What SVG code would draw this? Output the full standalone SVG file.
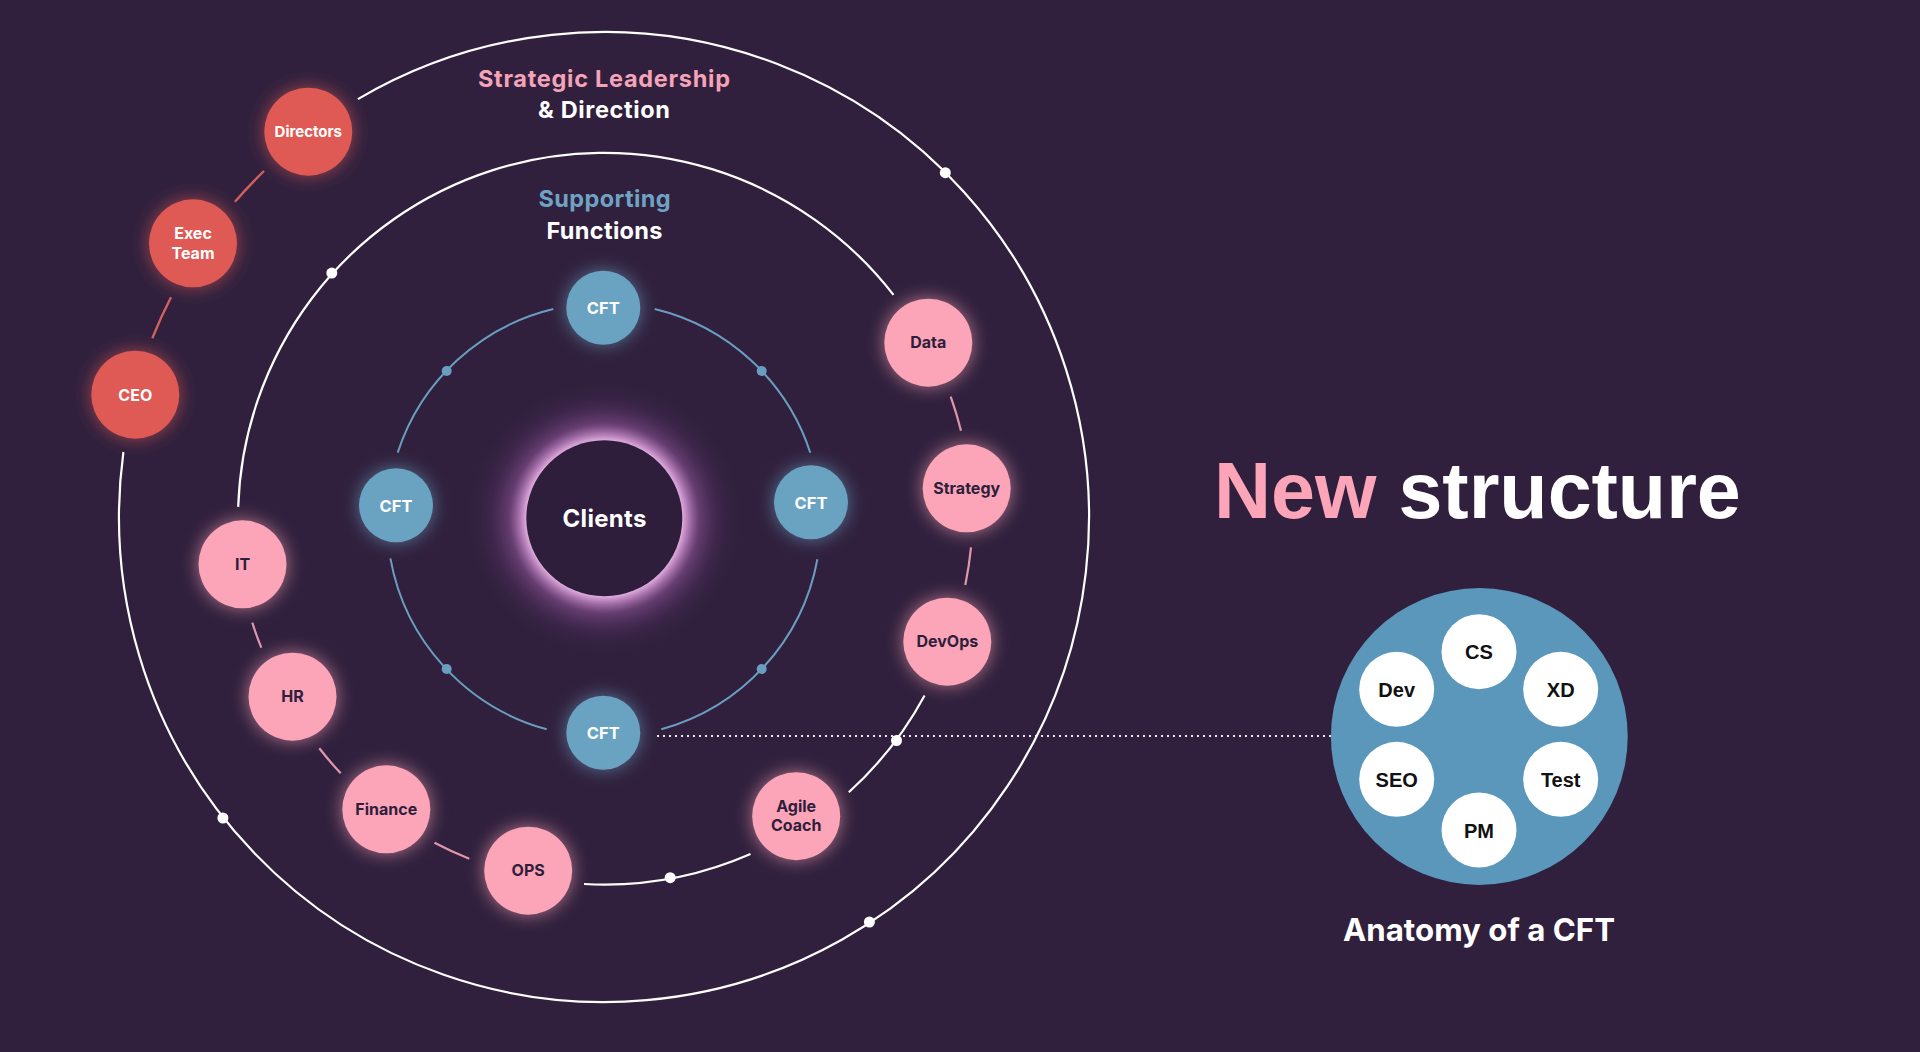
<svg xmlns="http://www.w3.org/2000/svg" width="1920" height="1052" viewBox="0 0 1920 1052">
<defs>
<style>
.bg{fill:#30203d}
.ring{fill:none;stroke:#ffffff;stroke-width:2.2}
.bring{fill:none;stroke:#6a9ec0;stroke-width:2}
.pseg{fill:none;stroke:#f4a3b7;stroke-width:2.2;opacity:.9}
.rseg{fill:none;stroke:#d2605c;stroke-width:2.4}
.wdot{fill:#ffffff}
.bdot{fill:#6a9ec0}
.red{fill:#e05a55}
.pink{fill:#fca4b8}
.cft{fill:#6ba2c1}
.t{font-family:Inter,"Liberation Sans",sans-serif;font-weight:700;text-anchor:middle}
.tw{fill:#ffffff}
.td{fill:#2d1e3b}
.lbl{font-size:16px}
.cftl{font-size:16.5px}
.an{font-family:"Liberation Sans",Arial,sans-serif;font-weight:700;font-size:20px;fill:#111114;text-anchor:middle}
.anc{fill:#ffffff}
</style>
<filter id="glow" x="-70%" y="-70%" width="240%" height="240%">
<feGaussianBlur in="SourceGraphic" stdDeviation="9" result="b"/>
<feComponentTransfer in="b" result="bf"><feFuncA type="linear" slope="0.65"/></feComponentTransfer>
<feMerge><feMergeNode in="bf"/><feMergeNode in="SourceGraphic"/></feMerge>
</filter>
<radialGradient id="cglow" cx="604.3" cy="518.3" r="140" gradientUnits="userSpaceOnUse">
<stop offset="0.54" stop-color="#f2c4ee" stop-opacity="1"/>
<stop offset="0.59" stop-color="#d496d4" stop-opacity="0.85"/>
<stop offset="0.68" stop-color="#9a5aa3" stop-opacity="0.5"/>
<stop offset="0.82" stop-color="#6a3a78" stop-opacity="0.22"/>
<stop offset="1" stop-color="#30203d" stop-opacity="0"/>
</radialGradient>
</defs>
<rect class="bg" x="0" y="0" width="1920" height="1052"/>

<g id="connectors">
<!-- outer ring -->
<path class="ring" d="M357.9,99.1 A485,485 0 1 1 123.4,452"/>
<path class="rseg" d="M264,171 A485,485 0 0 0 235,201.7"/>
<path class="rseg" d="M171,297.3 A485,485 0 0 0 152.3,338.3"/>
<circle class="wdot" cx="945.3" cy="172.7" r="5.5"/>
<circle class="wdot" cx="222.9" cy="818" r="5.5"/>
<circle class="wdot" cx="869.4" cy="922" r="5.5"/>
<!-- middle ring -->
<path class="ring" d="M238.2,506.9 A366,366 0 0 1 893.5,294.9"/>
<circle class="wdot" cx="331.8" cy="273.1" r="5.5"/>
<path class="pseg" d="M950.7,396.7 A366,366 0 0 1 961,430.7"/>
<path class="pseg" d="M971,547.3 A366,366 0 0 1 965.3,585"/>
<path class="ring" d="M924.6,695.4 A366,366 0 0 1 848.8,792.3"/>
<circle class="wdot" cx="896.5" cy="740.5" r="5.5"/>
<path class="ring" d="M750.5,854 A366,366 0 0 1 584,884"/>
<circle class="wdot" cx="670.2" cy="877.7" r="5.5"/>
<path class="pseg" d="M469.3,858.7 A366,366 0 0 1 434.5,842.7"/>
<path class="pseg" d="M340.7,773.3 A366,366 0 0 1 319.3,748.3"/>
<path class="pseg" d="M261.3,647.7 A366,366 0 0 1 252.3,622.7"/>
<!-- inner blue ring -->
<path class="bring" d="M654.7,309 A217,217 0 0 1 810.3,452.7"/>
<path class="bring" d="M817.4,559.2 A217,217 0 0 1 661.3,729.3"/>
<path class="bring" d="M546.7,729.3 A217,217 0 0 1 390.4,558.4"/>
<path class="bring" d="M397.7,452.6 A217,217 0 0 1 553.3,309"/>
<circle class="bdot" cx="446.7" cy="371" r="5"/>
<circle class="bdot" cx="761.7" cy="371" r="5"/>
<circle class="bdot" cx="446.7" cy="669" r="5"/>
<circle class="bdot" cx="761.7" cy="669" r="5"/>
<!-- dotted link to anatomy -->
<path d="M657,736 H1331" fill="none" stroke="#ffffff" stroke-width="2" stroke-dasharray="2 4" opacity="0.9"/>
</g>

<g id="titles">
<text class="t" x="604" y="87.3" font-size="23.5" fill="#f5a3b8" textLength="252" lengthAdjust="spacing">Strategic Leadership</text>
<text class="t tw" x="604" y="118.3" font-size="23.5" textLength="132" lengthAdjust="spacing">&amp; Direction</text>
<text class="t" x="604.5" y="207.3" font-size="23.5" fill="#6fa3c3" textLength="132" lengthAdjust="spacing">Supporting</text>
<text class="t tw" x="604.5" y="238.5" font-size="23.5" textLength="116" lengthAdjust="spacing">Functions</text>
</g>

<g id="node-clients">
<circle cx="604.3" cy="518.3" r="140" fill="url(#cglow)"/>
<circle cx="604.3" cy="518.3" r="78" fill="#2e1e3c"/>
<text class="t tw" x="604.5" y="526.7" font-size="24" textLength="84" lengthAdjust="spacing">Clients</text>
</g>

<g id="node-cft-top"><circle class="cft" cx="603.3" cy="307.7" r="37" filter="url(#glow)"/><text class="t tw cftl" x="603.3" y="314">CFT</text></g>
<g id="node-cft-left"><circle class="cft" cx="396" cy="505.3" r="37" filter="url(#glow)"/><text class="t tw cftl" x="396" y="511.6">CFT</text></g>
<g id="node-cft-right"><circle class="cft" cx="811" cy="502.3" r="37" filter="url(#glow)"/><text class="t tw cftl" x="811" y="508.6">CFT</text></g>
<g id="node-cft-bottom"><circle class="cft" cx="603.3" cy="732.7" r="37" filter="url(#glow)"/><text class="t tw cftl" x="603.3" y="739">CFT</text></g>

<g id="node-directors"><circle class="red" cx="308.3" cy="131.7" r="44" filter="url(#glow)"/><text class="t tw" x="308.3" y="136.5" font-size="15">Directors</text></g>
<g id="node-exec-team"><circle class="red" cx="193" cy="243.3" r="44" filter="url(#glow)"/><text class="t tw" x="193" y="239.3" font-size="16">Exec</text><text class="t tw" x="193" y="259" font-size="16">Team</text></g>
<g id="node-ceo"><circle class="red" cx="135.3" cy="394.7" r="44" filter="url(#glow)"/><text class="t tw" x="135.3" y="400.5" font-size="16">CEO</text></g>

<g id="node-data"><circle class="pink" cx="928.3" cy="342.7" r="44" filter="url(#glow)"/><text class="t td lbl" x="928.3" y="348.3">Data</text></g>
<g id="node-strategy"><circle class="pink" cx="966.7" cy="488.3" r="44" filter="url(#glow)"/><text class="t td lbl" x="966.7" y="494">Strategy</text></g>
<g id="node-devops"><circle class="pink" cx="947.3" cy="641.7" r="44" filter="url(#glow)"/><text class="t td lbl" x="947.3" y="647.4">DevOps</text></g>
<g id="node-agile-coach"><circle class="pink" cx="796.2" cy="816.2" r="44" filter="url(#glow)"/><text class="t td lbl" x="796.2" y="811.7">Agile</text><text class="t td lbl" x="796.2" y="830.7">Coach</text></g>
<g id="node-ops"><circle class="pink" cx="528.2" cy="870.7" r="44" filter="url(#glow)"/><text class="t td lbl" x="528.2" y="876.4">OPS</text></g>
<g id="node-finance"><circle class="pink" cx="386.3" cy="809.3" r="44" filter="url(#glow)"/><text class="t td lbl" x="386.3" y="815">Finance</text></g>
<g id="node-hr"><circle class="pink" cx="292.5" cy="696.7" r="44" filter="url(#glow)"/><text class="t td lbl" x="292.5" y="702.4">HR</text></g>
<g id="node-it"><circle class="pink" cx="242.5" cy="564.3" r="44" filter="url(#glow)"/><text class="t td lbl" x="242.5" y="570">IT</text></g>

<g id="headline">
<text x="1214" y="518" font-family="'Liberation Sans',Arial,sans-serif" font-weight="700" font-size="79"><tspan fill="#fca4b8">New</tspan><tspan fill="#ffffff"> structure</tspan></text>
</g>

<g id="node-anatomy">
<circle cx="1479.3" cy="736.5" r="148.4" fill="#5a97ba"/>
<g id="anatomy-cs"><circle class="anc" cx="1479" cy="651.7" r="37.5"/><text class="an" x="1479" y="659.3">CS</text></g>
<g id="anatomy-dev"><circle class="anc" cx="1396.7" cy="689.3" r="37.5"/><text class="an" x="1396.7" y="696.8">Dev</text></g>
<g id="anatomy-xd"><circle class="anc" cx="1560.7" cy="689.3" r="37.5"/><text class="an" x="1560.7" y="696.8">XD</text></g>
<g id="anatomy-seo"><circle class="anc" cx="1396.7" cy="779.3" r="37.5"/><text class="an" x="1396.7" y="786.8">SEO</text></g>
<g id="anatomy-test"><circle class="anc" cx="1560.7" cy="779.3" r="37.5"/><text class="an" x="1560.7" y="786.8">Test</text></g>
<g id="anatomy-pm"><circle class="anc" cx="1479" cy="830" r="37.5"/><text class="an" x="1479" y="837.5">PM</text></g>
<text class="t tw" x="1479" y="940.5" font-size="31.5" textLength="272" lengthAdjust="spacingAndGlyphs">Anatomy of a CFT</text>
</g>
</svg>
